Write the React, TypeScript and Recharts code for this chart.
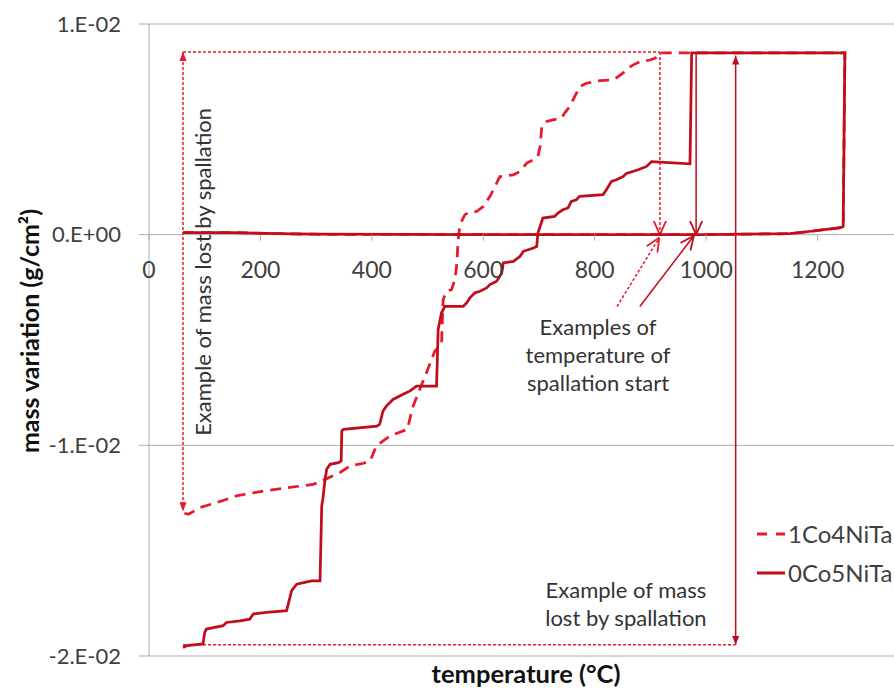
import React from 'react';
import { LineChart, Line, XAxis, YAxis, CartesianGrid, Legend, ReferenceDot } from 'recharts';

// temperature (°C) / mass variation (g/cm²)
const SERIES_A = '1Co4NiTa';
const SERIES_B = '0Co5NiTa';

const tempA = [
  61, 150, 230, 300, 600, 1000, 1150, 1185, 1215, 1246, 1249,
  917, 917, 908, 899, 881, 869, 860, 854, 842, 833, 809, 785, 773, 764, 755, 746, 740,
  725, 714, 705, 702, 698, 690, 678, 666, 654, 630, 627, 621, 612, 606, 600, 588, 576,
  567, 558, 555, 552, 549, 543, 534, 528, 526, 525, 513, 498, 474, 468, 464, 432, 408,
  397, 385, 361, 343, 319, 295, 253, 205, 157, 121, 92, 71, 63,
];
const massA = [
  0.0001, 0.0001, 0.00005, 0.00002, 0, 0, 0.00005, 0.00015, 0.00025, 0.00036, 0.00863,
  0.00863, 0.00853, 0.00837, 0.00829, 0.00821, 0.00806, 0.0079, 0.00774, 0.0075, 0.00735,
  0.00731, 0.00719, 0.00703, 0.00655, 0.00608, 0.00577, 0.00553, 0.00545, 0.00537, 0.00513,
  0.00418, 0.00371, 0.00355, 0.0034, 0.003, 0.00284, 0.00276, 0.00261, 0.00229, 0.00182,
  0.00158, 0.00134, 0.0011, 0.00108, 0.00095, 0.00047, -0.00024, -0.0015, -0.00213,
  -0.00261, -0.00269, -0.00308, -0.0045, -0.00521, -0.00553, -0.00655, -0.00814, -0.00877,
  -0.00924, -0.00956, -0.01003, -0.01074, -0.01085, -0.01098, -0.01129, -0.01158, -0.01185,
  -0.012, -0.01217, -0.0124, -0.01272, -0.01295, -0.01327, -0.01322,
];

const tempB = [
  61, 150, 230, 300, 600, 1000, 1150, 1185, 1215, 1240, 1246, 1249,
  974, 971, 902, 893, 878, 857, 851, 839, 830, 821, 815, 773, 767, 758, 752, 743, 734,
  728, 707, 702, 698, 696, 690, 672, 666, 654, 636, 633, 624, 612, 606, 594, 585, 576,
  570, 564, 531, 525, 519, 517, 516, 480, 468, 456, 438, 426, 420, 414, 409, 349, 346,
  345, 340, 325, 319, 316, 312, 310, 307, 292, 265, 256, 247, 211, 187, 181, 163, 139,
  133, 103, 100, 97, 68, 61,
];
const massB = [
  0.0001, 0.0001, 0.00005, 0.00002, 0, 0, 0.00005, 0.00015, 0.00025, 0.00032, 0.00038, 0.00863,
  0.00863, 0.00336, 0.00347, 0.00324, 0.00308, 0.00291, 0.00276, 0.00261, 0.00253, 0.00213,
  0.0019, 0.00182, 0.00166, 0.00158, 0.00127, 0.00118, 0.00103, 0.00087, 0.00079, 0.00039,
  0.00008, -0.00055, -0.00063, -0.00079, -0.00103, -0.00127, -0.00134, -0.00183, -0.00221,
  -0.00237, -0.00253, -0.00269, -0.00276, -0.003, -0.00324, -0.0034, -0.0034, -0.00371,
  -0.0045, -0.0064, -0.00719, -0.00719, -0.00743, -0.00758, -0.00782, -0.00814, -0.00837,
  -0.009, -0.00909, -0.00924, -0.00932, -0.01074, -0.01082, -0.0109, -0.01114, -0.01161,
  -0.01256, -0.01288, -0.01643, -0.01643, -0.01659, -0.0169, -0.01785, -0.01793, -0.01801,
  -0.01825, -0.01833, -0.01841, -0.01856, -0.01872, -0.01888, -0.01943, -0.01951, -0.01959,
];

const X_TICKS = [0, 200, 400, 600, 800, 1000, 1200];
const Y_TICKS = [-0.02, -0.01, 0, 0.01];
const X_MAX = 1400;
const Y_MIN = -0.02;
const Y_MAX = 0.01;

// annotation segments: [t1, m1, t2, m2]
const noteTopSpan = [61, 0.00867, 917, 0.00867];
const noteLeftSpan = [61, 0.00867, 61, -0.01313];
const noteStartA = [917, 0.00867, 917, 0];
const noteStartB = [982, 0.00863, 982, 0];
const noteArrowA = [840, -0.00341, 916, -0.00014];
const noteArrowB = [881, -0.00341, 978, -0.00005];
const noteBottomSpan = [61, -0.01947, 1053, -0.01947];
const noteLossSpan = [1053, 0.0085, 1053, -0.01947];

const W = 960;
const H = 688;
const MARGIN = { top: 24, right: 31, left: 0, bottom: 0 };
const X_AXIS_H = 32;
const PLOT_H = H - MARGIN.top - MARGIN.bottom - X_AXIS_H;
const ZERO_Y = MARGIN.top + (PLOT_H * Y_MAX) / (Y_MAX - Y_MIN);

const RED = '#e8192c';
const DARK = '#c00d1e';
const GRID = '#ababab';
const TXT = '#404040';

const toRows = (ts: number[], ms: number[]) => ts.map((t, i) => ({ t, m: ms[i] }));
const seg = (s: number[]) => [{ t: s[0], m: s[1] }, { t: s[2], m: s[3] }];

const fmtY = (v: number) => {
  if (v === 0) return '0.E+00';
  const e = Math.floor(Math.log10(Math.abs(v)));
  const mant = Math.round(v / Math.pow(10, e));
  return `${mant}.E${e < 0 ? '-' : '+'}${String(Math.abs(e)).padStart(2, '0')}`;
};

// excel puts the horizontal axis where y = 0
const XTick = (props: any) => {
  const { x, payload } = props;
  return (
    <g>
      <line x1={x} x2={x} y1={ZERO_Y} y2={ZERO_Y + 6} stroke={GRID} />
      <text x={x} y={ZERO_Y + 43} textAnchor="middle" fontSize={23} fill={TXT}>
        {payload.value}
      </text>
    </g>
  );
};

const YTitle = () => {
  const x = 30;
  const y = MARGIN.top + PLOT_H / 2 - 9;
  return (
    <text x={x} y={y} dy="0.35em" transform={`rotate(-90, ${x}, ${y})`} textAnchor="middle"
      fontSize={25} fontWeight="bold" fill="#111">
      mass variation (g/cm²)
    </text>
  );
};

const XTitle = (props: any) => {
  const { viewBox } = props;
  return (
    <text x={viewBox.x + 377} y={viewBox.y + 27} textAnchor="middle" fontSize={25.5} fontWeight="bold" fill="#111">
      temperature (°C)
    </text>
  );
};

const Note = (props: any) => {
  const { viewBox, lines, rotate } = props;
  const cx = viewBox.x + viewBox.width / 2;
  const cy = viewBox.y + viewBox.height / 2;
  const lh = 28;
  return (
    <text x={cx} y={cy} textAnchor="middle" fontSize={22} fill="#333"
      transform={rotate ? `rotate(-90, ${cx}, ${cy})` : undefined}>
      {lines.map((s: string, i: number) => (
        <tspan key={i} x={cx} y={cy + (i - (lines.length - 1) / 2) * lh} dy="0.35em">{s}</tspan>
      ))}
    </text>
  );
};

const LegendBox = (props: any) => {
  const { payload } = props;
  const order = [SERIES_A, SERIES_B];
  const items = (payload || [])
    .filter((e: any) => order.includes(e.value))
    .sort((a: any, b: any) => order.indexOf(a.value) - order.indexOf(b.value));
  return (
    <div>
      {items.map((e: any) => (
        <div key={e.value} style={{ display: 'flex', alignItems: 'center', height: 39 }}>
          <svg width={36} height={10}>
            <line x1={5} x2={33} y1={5} y2={5} stroke={e.value === SERIES_A ? RED : DARK} strokeWidth={3}
              strokeDasharray={e.value === SERIES_A ? '10 9' : undefined} />
          </svg>
          <span style={{ fontSize: 24, color: TXT, whiteSpace: 'nowrap' }}>{e.value}</span>
        </div>
      ))}
    </div>
  );
};

const Markers = () => (
  <svg width={0} height={0} style={{ position: 'absolute' }}>
    <defs>
      {[['Red', RED], ['Dark', DARK]].map(([k, c]) => (
        <React.Fragment key={k}>
          <marker id={`fill${k}`} viewBox="0 0 10 10" refX={10} refY={5} markerWidth={9} markerHeight={9}
            markerUnits="userSpaceOnUse" orient="auto-start-reverse">
            <path d="M0,1 L10,5 L0,9 z" fill={c} />
          </marker>
          <marker id={`open${k}`} viewBox="0 0 10 10" refX={10} refY={5} markerWidth={14} markerHeight={14}
            markerUnits="userSpaceOnUse" orient="auto-start-reverse">
            <path d="M0,0.5 L10,5 L0,9.5" fill="none" stroke={c} strokeWidth={1.3} />
          </marker>
        </React.Fragment>
      ))}
    </defs>
  </svg>
);

const noteLine = (key: string, s: number[], color: string, dotted: boolean, start?: string, end?: string) => (
  <Line key={key} name={key} data={seg(s)} dataKey="m" type="linear" stroke={color} strokeWidth={1.5}
    strokeDasharray={dotted ? '3 2' : undefined} dot={false} activeDot={false} legendType="none"
    isAnimationActive={false} markerStart={start ? `url(#${start})` : undefined}
    markerEnd={end ? `url(#${end})` : undefined} />
);

export default function App() {
  return (
    <div style={{ position: 'absolute', left: 0, top: 0, width: 894, height: 688, overflow: 'hidden',
      background: '#fff', fontFamily: 'Lato, "Open Sans", sans-serif' }}>
      <Markers />
      <LineChart width={W} height={H} margin={MARGIN}>
        <CartesianGrid vertical={false} stroke={GRID} />
        <XAxis type="number" dataKey="t" domain={[0, X_MAX]} ticks={X_TICKS} height={X_AXIS_H}
          axisLine={false} tickLine={false} tick={<XTick />} label={<XTitle />} />
        <YAxis type="number" domain={[Y_MIN, Y_MAX]} ticks={Y_TICKS} width={149} tickSize={10} tickMargin={18}
          tickFormatter={fmtY} tick={{ fontSize: 22, fill: TXT }} axisLine={{ stroke: GRID }}
          tickLine={{ stroke: GRID }} label={<YTitle />} />
        <Legend layout="horizontal" verticalAlign="middle" align="center" content={<LegendBox />}
          wrapperStyle={{ position: 'absolute', left: 752, top: 514, width: 'auto' }} />

        {noteLine('topSpan', noteTopSpan, RED, true)}
        {noteLine('leftSpan', noteLeftSpan, RED, true, 'fillRed', 'fillRed')}
        {noteLine('bottomSpan', noteBottomSpan, RED, true)}
        {noteLine('startA', noteStartA, RED, true, undefined, 'openRed')}
        {noteLine('arrowA', noteArrowA, RED, true, undefined, 'openRed')}

        <Line name={SERIES_A} data={toRows(tempA, massA)} dataKey="m" type="linear" stroke={RED}
          strokeWidth={2.75} strokeDasharray="11 7" dot={false} activeDot={false} isAnimationActive={false} />
        <Line name={SERIES_B} data={toRows(tempB, massB)} dataKey="m" type="linear" stroke={DARK}
          strokeWidth={2.75} dot={false} activeDot={false} isAnimationActive={false} />

        {noteLine('startB', noteStartB, DARK, false, undefined, 'openDark')}
        {noteLine('arrowB', noteArrowB, DARK, false, undefined, 'openDark')}
        {noteLine('lossSpan', noteLossSpan, DARK, false, 'fillDark', 'fillDark')}

        <ReferenceDot x={97} y={-0.00177} r={0} stroke="none" fill="none"
          label={<Note rotate lines={['Example of mass lost by spallation']} />} />
        <ReferenceDot x={806} y={-0.00571} r={0} stroke="none" fill="none"
          label={<Note lines={['Examples of', 'temperature of', 'spallation start']} />} />
        <ReferenceDot x={856} y={-0.01753} r={0} stroke="none" fill="none"
          label={<Note lines={['Example of mass', 'lost by spallation']} />} />
      </LineChart>
    </div>
  );
}
